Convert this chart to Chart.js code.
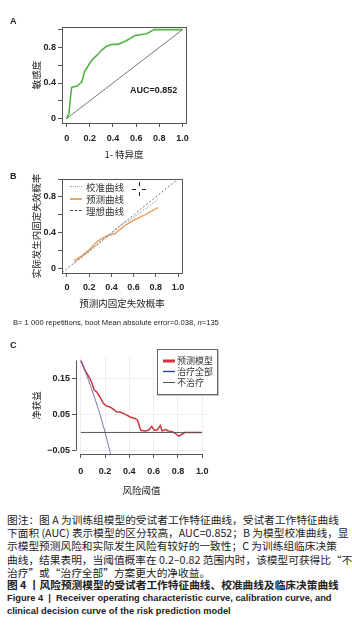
<!DOCTYPE html>
<html>
<head>
<meta charset="utf-8">
<script src="https://cdn.jsdelivr.net/npm/chart.js@4.4.1/dist/chart.umd.min.js"></script>
<style>
  body { margin: 0; background: #fff; }
  #page { position: relative; width: 352px; height: 639px; overflow: hidden;
          font-family: "Liberation Sans", "Noto Sans CJK SC", sans-serif; color: #222; }
  canvas { position: absolute; left: 0; }
  .tag { position: absolute; font-weight: bold; font-size: 9px; font-family: "Liberation Sans", sans-serif; }
  .leg { position: absolute; font-size: 9.5px; line-height: 12px; font-family: "Noto Sans CJK SC", sans-serif; color: #333; }
  .sw { position: absolute; width: 12px; height: 0; }
  .cap { position: absolute; left: 7px; width: 326px; font-size: 10.7px; line-height: 13.2px;
         font-family: "Noto Sans CJK SC", sans-serif; color: #222; white-space: nowrap; }
  .full { text-align: justify; text-align-last: justify; }
  .en { font-family: "Liberation Sans", sans-serif; font-weight: bold; font-size: 9.3px; }
  .cross { position: absolute; background: #222; }
</style>
</head>
<body>
<div id="page">
  <canvas id="rocChart" width="352" height="160" style="top:0"></canvas>
  <canvas id="calChart" width="352" height="160" style="top:160px"></canvas>
  <canvas id="dcaChart" width="352" height="175" style="top:330px"></canvas>

  <div class="tag" style="left:10px;top:16px">A</div>
  <div class="tag" style="left:10px;top:171px">B</div>
  <div class="tag" style="left:10px;top:340px">C</div>

  <div style="position:absolute;left:130px;top:85px;font-size:9px;font-weight:bold;font-family:'Liberation Sans',sans-serif">AUC=0.852</div>

  <!-- legend B -->
  <div class="sw" style="left:70px;top:186px;border-top:1.5px dotted #aaa"></div>
  <div class="sw" style="left:70px;top:198px;border-top:2.5px solid #eaa466"></div>
  <div class="sw" style="left:70px;top:210px;border-top:1px dashed #555"></div>
  <div class="leg" style="left:86px;top:181px">校准曲线</div>
  <div class="leg" style="left:86px;top:193px">预测曲线</div>
  <div class="leg" style="left:86px;top:205px">理想曲线</div>
  <div class="cross" style="left:132px;top:189px;width:4px;height:1px"></div>
  <div class="cross" style="left:142px;top:189px;width:4px;height:1px"></div>
  <div class="cross" style="left:139px;top:182px;width:1px;height:4px"></div>
  <div class="cross" style="left:139px;top:192px;width:1px;height:4px"></div>

  <div style="position:absolute;left:13px;top:318px;font-size:7.6px;font-family:'Liberation Sans',sans-serif;white-space:nowrap">B= 1 000 repetitions, boot Mean absolute error=0.038, <i>n</i>=135</div>

  <!-- legend C text (box and swatches are drawn on the chart canvas) -->
  <div class="leg" style="left:177px;top:355px;font-size:9px">预测模型</div>
  <div class="leg" style="left:177px;top:366px;font-size:9px">治疗全部</div>
  <div class="leg" style="left:177px;top:377px;font-size:9px">不治疗</div>

  <!-- caption -->
  <div class="cap full" style="top:513px">图注：图 A 为训练组模型的受试者工作特征曲线，受试者工作特征曲线</div>
  <div class="cap full" style="top:526px">下面积 (AUC) 表示模型的区分较高，AUC=0.852；B 为模型校准曲线，显</div>
  <div class="cap full" style="top:539px">示模型预测风险和实际发生风险有较好的一致性；C 为训练组临床决策</div>
  <div class="cap full" style="top:553px">曲线，结果表明，当阈值概率在 0.2–0.82 范围内时，该模型可获得比“不</div>
  <div class="cap" style="top:566px">治疗”或“治疗全部”方案更大的净收益。</div>
  <div class="cap full" style="top:578px;font-weight:bold">图 4 丨风险预测模型的受试者工作特征曲线、校准曲线及临床决策曲线</div>
  <div class="cap en" style="top:592px;width:321px;text-align:justify;text-align-last:justify">Figure 4 &nbsp;| &nbsp;Receiver operating characteristic curve, calibration curve, and</div>
  <div class="cap en" style="top:605px">clinical decision curve of the risk prediction model</div>
</div>

<script>
// ---- A: ROC curve ----
const rocFpr = [0, 0.02, 0.03, 0.043, 0.09, 0.13, 0.143, 0.155, 0.18, 0.215, 0.26, 0.30, 0.34, 0.39, 0.445, 0.515, 0.59, 0.69, 0.755, 1.0];
const rocTpr = [0, 0.055, 0.2, 0.35, 0.365, 0.41, 0.47, 0.53, 0.58, 0.655, 0.71, 0.765, 0.81, 0.835, 0.835, 0.875, 0.935, 0.955, 1.0, 1.0];
const refLine = [0, 1];

// ---- B: calibration ----
const calPredX = [0.06, 0.12, 0.2, 0.27, 0.33, 0.37, 0.43, 0.47, 0.52, 0.6, 0.7, 0.82];
const calPredY = [0.09, 0.13, 0.21, 0.30, 0.35, 0.37, 0.39, 0.43, 0.48, 0.54, 0.60, 0.68];
const calCorrX = [0.06, 0.2, 0.3, 0.4, 0.5, 0.55, 0.7, 0.82];
const calCorrY = [0.06, 0.19, 0.29, 0.39, 0.50, 0.53, 0.66, 0.77];
const idealLine = [-0.1, 1.1];

// ---- C: decision curve ----
const dcaX = [0, 0.033, 0.052, 0.075, 0.097, 0.11, 0.13, 0.157, 0.185, 0.21, 0.24, 0.27, 0.296, 0.323, 0.35, 0.379, 0.406, 0.447, 0.467, 0.48, 0.494, 0.53, 0.558, 0.585, 0.605, 0.627, 0.655, 0.67, 0.696, 0.72, 0.75, 0.78, 0.806, 0.834, 0.86, 0.99];
const dcaModel = [0.2, 0.174, 0.163, 0.15, 0.132, 0.118, 0.113, 0.099, 0.081, 0.074, 0.071, 0.064, 0.057, 0.057, 0.053, 0.048, 0.043, 0.039, 0.034, 0.02, 0.006, 0.004, 0.006, 0.017, 0.006, 0.006, 0.019, 0.004, 0.008, 0.004, 0.003, -0.003, -0.01, -0.005, 0.0, 0.0];
const allX = [0, 0.04, 0.08, 0.12, 0.16, 0.2, 0.24, 0.26];
const allY = [0.2, 0.167, 0.13, 0.09, 0.048, 0.0, -0.053, -0.08];
const noneX = [0, 1];
const noneY = [0, 0];

const ticks01 = [0, 0.2, 0.4, 0.6, 0.8, 1.0];
const yTicksAB = [0, 0.2, 0.4, 0.6, 0.8, 1.0];
const yLabelsAB = [0, 0.4, 0.8];
const yTicksC = [-0.05, 0.05, 0.15];

const pts = (xs, ys) => xs.map((x, i) => ({ x, y: ys[i] }));
const tickFont = { family: 'Liberation Sans', size: 9, weight: 'bold' };
const titleFont = { family: 'Noto Sans CJK SC', size: 9.5 };

function fmt01(v) { return v === 0 ? '0' : v.toFixed(1); }

// box (A, B) or R-style axis lines (C), placed with the chart's own scales
const frameLines = {
  id: 'frameLines',
  afterDraw(chart, args, opts) {
    const { ctx, chartArea: a, scales: { x, y } } = chart;
    ctx.save();
    ctx.strokeStyle = '#555';
    ctx.lineWidth = 1;
    if (opts.box) {
      ctx.strokeRect(Math.round(a.left) + 0.5, Math.round(a.top) + 0.5,
                     Math.round(a.right - a.left), Math.round(a.bottom - a.top));
    } else {
      ctx.beginPath();
      const xl = Math.round(a.left) + 0.5;
      ctx.moveTo(xl, y.getPixelForValue(opts.yFrom));
      ctx.lineTo(xl, y.getPixelForValue(opts.yTo));
      const yb = Math.round(a.bottom) + 0.5;
      ctx.moveTo(x.getPixelForValue(0), yb);
      ctx.lineTo(x.getPixelForValue(1), yb);
      ctx.stroke();
    }
    ctx.restore();
  }
};

// legend frame + swatches for panel C (labels are html text above it)
const legendBoxC = {
  id: 'legendBoxC',
  afterDraw(chart) {
    const ctx = chart.ctx;
    ctx.save();
    ctx.fillStyle = '#c4c4c4';
    ctx.fillRect(158, 20, 61, 46);
    ctx.fillStyle = '#fff';
    ctx.fillRect(157, 19, 61, 46);
    ctx.strokeStyle = '#666';
    ctx.lineWidth = 1;
    ctx.strokeRect(157.5, 19.5, 60, 45);
    [['#d0343c', 3, 31], ['#2a3a9a', 1.3, 41.5], ['#555', 1, 52.5]].forEach(([c, w, yy]) => {
      ctx.strokeStyle = c;
      ctx.lineWidth = w;
      ctx.beginPath();
      ctx.moveTo(163, yy);
      ctx.lineTo(175, yy);
      ctx.stroke();
    });
    ctx.restore();
  }
};

function axes(o) {
  return {
    x: {
      type: 'linear', min: o.xMin, max: o.xMax,
      afterBuildTicks: s => { s.ticks = ticks01.map(v => ({ value: v })); },
      afterFit: s => { s.height = o.xH; },
      ticks: { font: tickFont, color: '#222', padding: o.xPad, maxRotation: 0, autoSkip: false, callback: fmt01 },
      grid: { drawOnChartArea: !!o.grid, color: '#eeeeee', tickColor: '#555', tickLength: 4 },
      border: { display: false },
      title: { display: true, text: o.xTitle, font: titleFont, color: '#222', padding: 0 }
    },
    y: {
      type: 'linear', min: o.yMin, max: o.yMax,
      afterBuildTicks: s => { s.ticks = o.yTicks.map(v => ({ value: v })); },
      afterFit: s => { s.width = o.yW; },
      ticks: { font: tickFont, color: '#222', padding: 2, autoSkip: false, callback: o.yFmt },
      grid: { drawOnChartArea: !!o.grid, color: '#eeeeee', tickColor: '#555', tickLength: 4 },
      border: { display: false },
      title: { display: true, text: o.yTitle, font: titleFont, color: '#222', padding: { top: o.yTitlePad, bottom: 0 } }
    }
  };
}

const base = {
  responsive: false, animation: false, devicePixelRatio: 1,
  plugins: { legend: { display: false }, tooltip: { enabled: false } },
  elements: { point: { radius: 0 }, line: { tension: 0 } }
};

// A
new Chart(document.getElementById('rocChart'), {
  type: 'line',
  data: {
    datasets: [
      { data: pts(refLine, refLine), borderColor: '#555', borderWidth: 0.8 },
      { data: pts(rocFpr, rocTpr), borderColor: '#52b443', borderWidth: 1.6 }
    ]
  },
  options: Object.assign({}, base, {
    layout: { padding: { top: 27, right: 166, left: 0, bottom: 0 } },
    scales: axes({
      xMin: -0.04, xMax: 1.03, yMin: -0.05, yMax: 1.03, xH: 37, yW: 62, xPad: 6,
      yTicks: yTicksAB, yFmt: v => (yLabelsAB.includes(v) ? fmt01(v) : ''),
      xTitle: '1- 特异度', yTitle: '敏感度', yTitlePad: 31
    }),
    plugins: Object.assign({}, base.plugins, { frameLines: { box: true } })
  }),
  plugins: [frameLines]
});

// B
new Chart(document.getElementById('calChart'), {
  type: 'line',
  data: {
    datasets: [
      { data: pts(idealLine, idealLine), borderColor: '#555', borderWidth: 0.8, borderDash: [2, 2] },
      { data: pts(calCorrX, calCorrY), borderColor: '#b5b5b5', borderWidth: 1.2, borderDash: [1.5, 1.5] },
      { data: pts(calPredX, calPredY), borderColor: '#eaa466', borderWidth: 1.5 }
    ]
  },
  options: Object.assign({}, base, {
    layout: { padding: { top: 19, right: 170, left: 0, bottom: 11 } },
    scales: axes({
      xMin: -0.045, xMax: 1.036, yMin: -0.048, yMax: 1.0, xH: 36, yW: 62, xPad: 5,
      yTicks: yTicksAB, yFmt: v => (yLabelsAB.includes(v) ? fmt01(v) : ''),
      xTitle: '预测内固定失效概率', yTitle: '实际发生内固定失效概率', yTitlePad: 31
    }),
    plugins: Object.assign({}, base.plugins, { frameLines: { box: true } })
  }),
  plugins: [frameLines]
});

// C
new Chart(document.getElementById('dcaChart'), {
  type: 'line',
  data: {
    datasets: [
      { data: pts(noneX, noneY), borderColor: '#555', borderWidth: 1 },
      { data: pts(allX, allY), borderColor: '#6a6ab4', borderWidth: 0.9 },
      { data: pts(dcaX, dcaModel), borderColor: '#d0343c', borderWidth: 1.5 }
    ]
  },
  options: Object.assign({}, base, {
    layout: { padding: { top: 27, right: 145, left: 0, bottom: 9 } },
    scales: axes({
      xMin: -0.04, xMax: 1.04, yMin: -0.06, yMax: 0.21, xH: 42, yW: 76, xPad: 8, grid: true,
      yTicks: yTicksC, yFmt: v => v.toFixed(2).replace('-', '−'),
      xTitle: '风险阈值', yTitle: '净获益', yTitlePad: 31
    }),
    plugins: Object.assign({}, base.plugins, { frameLines: { box: false, yFrom: -0.05, yTo: 0.2 } })
  }),
  plugins: [frameLines, legendBoxC]
});
</script>
</body>
</html>
